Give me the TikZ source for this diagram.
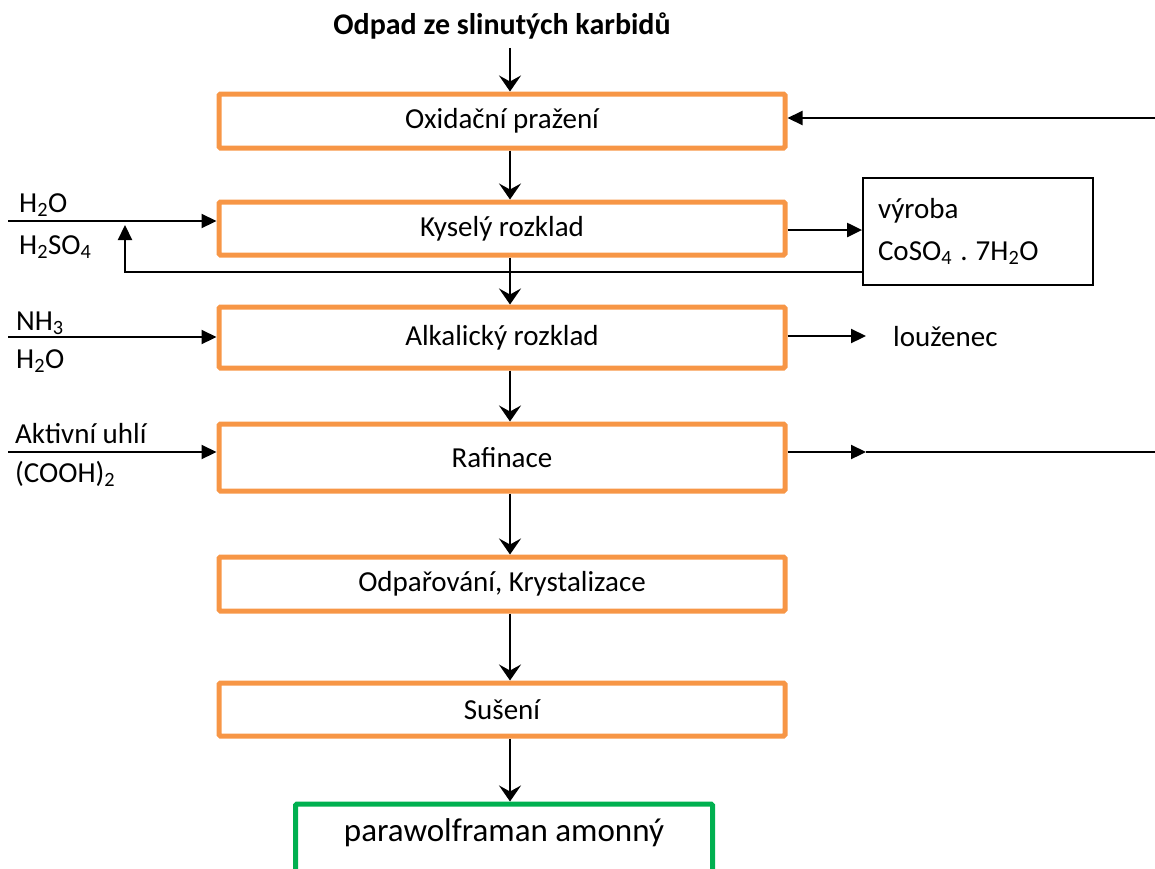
\documentclass[tikz,border=0pt]{standalone}
\usepackage{fontspec}
\setmainfont{Carlito}
\usetikzlibrary{arrows.meta}
\definecolor{boxorange}{HTML}{F79646}
\definecolor{boxgreen}{HTML}{00B050}
\frenchspacing

\begin{document}
\begin{tikzpicture}[x=1pt,y=-1pt,
  font=\fontsize{29}{35}\selectfont,
  stage/.style={draw=boxorange, line width=5pt, rounded corners=1.5pt,
    minimum width=566pt, inner sep=0pt, anchor=center},
  product/.style={draw=boxgreen, line width=5pt, rounded corners=1.5pt,
    minimum width=417pt, minimum height=112pt, inner sep=0pt},
  sidebox/.style={draw, line width=1.8pt, minimum width=230pt, minimum height=107pt,
    inner sep=0pt, text width=200pt, align=left},
  lbl/.style={anchor=base west, inner sep=0pt},
  plain/.style={line width=2.2pt},
  down/.style={plain, -{Stealth[length=16pt,width=22pt,inset=6pt]}},
  side/.style={plain, -{Triangle[length=15pt,width=14pt]}}
]
\useasboundingbox (0,0) rectangle (1155,868);
\clip (0,0) rectangle (1155,868);

% main process chain
\node[anchor=base, inner sep=0pt] (src) at (502,34) {\fontsize{30}{36}\selectfont\bfseries Odpad ze slinutých karbidů};
\node[stage, minimum height=54pt] (ox)  at (502,121)   {Oxidační pražení};
\node[stage, minimum height=53pt] (ky)  at (502,228.5) {Kyselý rozklad};
\node[stage, minimum height=61pt] (al)  at (502,337.5) {Alkalický rozklad};
\node[stage, minimum height=67pt] (raf) at (502,457.5) {Rafinace};
\node[stage, minimum height=54pt] (odp) at (502,584)   {Odpařování, Krystalizace};
\node[stage, minimum height=53pt] (su)  at (502,709.5) {Sušení};
\node[product] (pw) at (504,860) {};
\node[anchor=base, inner sep=0pt] (pwt) at (504,841) {\fontsize{33}{40}\selectfont parawolframan amonný};

% side products
\node[sidebox] (vy) at (978,231.5) {výroba\\[7pt]CoSO\textsubscript{4}\kern-1.5pt{} .\kern-1.5pt{} 7H\textsubscript{2}O};
\node[lbl] (lou) at (893,346) {louženec};

% reagent labels
\node[lbl] (h2oa)  at (19,212) {H\textsubscript{2}O};
\node[lbl] (h2so4) at (19,254) {H\textsubscript{2}SO\textsubscript{4}};
\node[lbl] (nh3)   at (16,330) {NH\textsubscript{3}};
\node[lbl] (h2ob)  at (16,368) {H\textsubscript{2}O};
\node[lbl] (akt)   at (15,443) {Aktivní uhlí};
\node[lbl] (cooh)  at (15,482) {(COOH)\textsubscript{2}};

% vertical flow
\coordinate (col) at (510,0);
\draw[down] (src.south -| col) ++(0,9) -- (ox.north -| col);
\draw[down] (ox.south -| col) -- (ky.north -| col);
\draw[down] (ky.south -| col) -- (al.north -| col);
\draw[down] (al.south -| col) -- (raf.north -| col);
\draw[down] (raf.south -| col) -- (odp.north -| col);
\draw[down] (odp.south -| col) -- (su.north -| col);
\draw[down] (su.south -| col) -- (pw.north -| col);

% inputs from the left
\coordinate (in2) at (8,221);
\coordinate (in3) at (8,337);
\coordinate (in4) at (8,452);
\draw[side] (in2) -- (in2 -| ky.west);
\draw[side] (in3) -- (in3 -| al.west);
\draw[side] (in4) -- (in4 -| raf.west);

% recycle into the roasting stage
\coordinate (rin) at (1155,118);
\draw[side] (rin) -- (rin -| ox.east);

% acid leach to cobalt sulfate and back
\coordinate (out2) at (0,230);
\draw[side] (out2 -| ky.east) -- (out2 -| vy.west);
\coordinate (ret) at (125,272);
\draw[side] (ret -| vy.west) -- (ret) -- ++(0,-47);

% alkaline leach residue
\coordinate (lout) at (866,336);
\draw[side] (lout -| al.east) -- (lout);

% refining outlet
\coordinate (rmid) at (866,452);
\coordinate (rout) at (1155,452);
\draw[side] (rmid -| raf.east) -- (rmid);
\draw[plain] (rmid) -- (rout);
\end{tikzpicture}
\end{document}
